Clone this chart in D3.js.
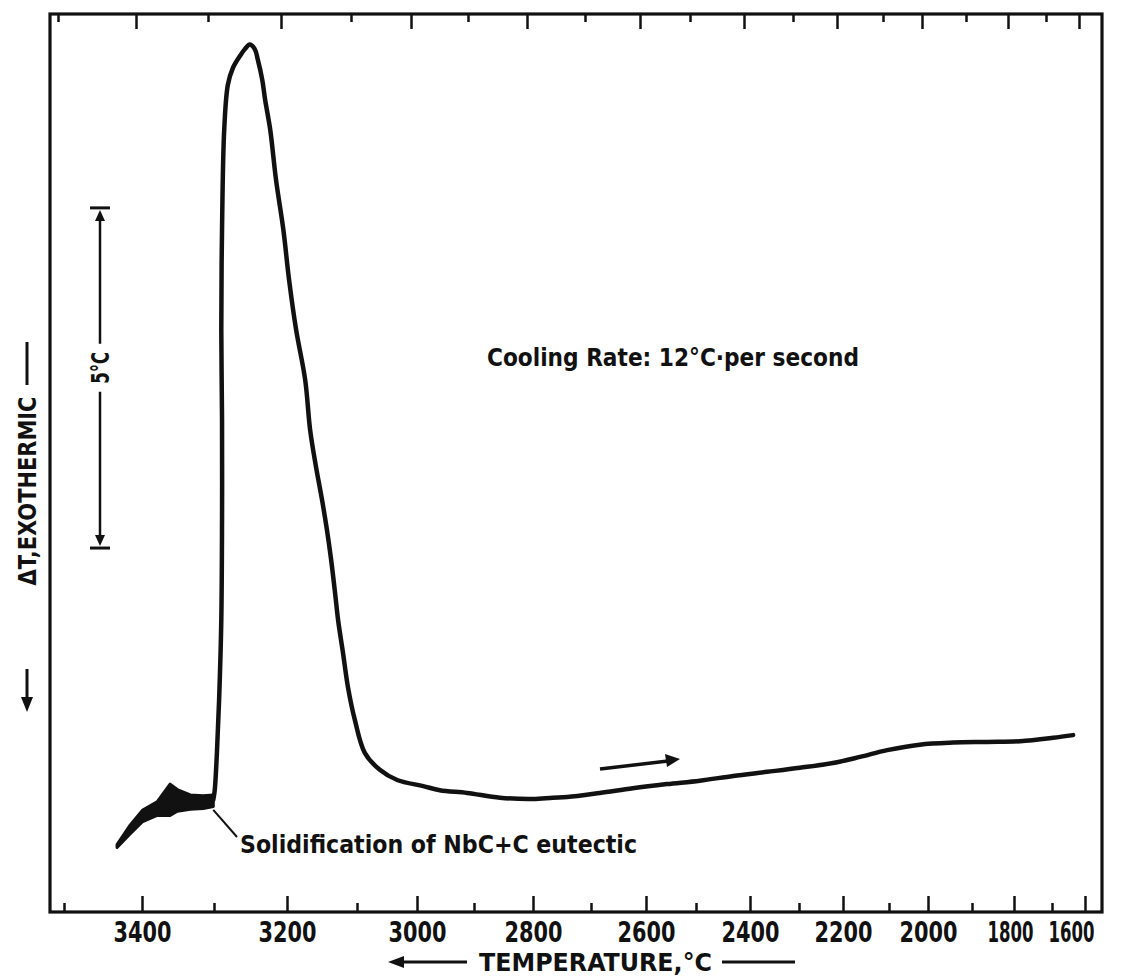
<!DOCTYPE html>
<html>
<head>
<meta charset="utf-8">
<script src="https://cdn.jsdelivr.net/npm/d3@7"></script>
<style>
  html, body { margin: 0; background: #fff; }
  svg { display: block; font-family: "DejaVu Sans Condensed", "DejaVu Sans", sans-serif; font-weight: bold; }
</style>
</head>
<body>
<div id="chart"></div>
<script>
// temperature axis, °C (decreasing to the right, scale is not linear)
const tempTicks = [3500, 3400, 3300, 3200, 3100, 3000, 2900, 2800, 2700, 2600,
                   2500, 2400, 2300, 2200, 2100, 2000, 1900, 1800, 1700, 1600];
const majorTicks = [3400, 3200, 3000, 2800, 2600, 2400, 2200, 2000, 1800, 1600];
const minorTicks = [3500, 3300, 3100, 2900, 2700, 2500, 2300, 2100, 1900, 1700];

// DTA trace on cooling: temperature (°C) and ΔT (°C, arbitrary zero)
const traceTemp = [3301, 3299, 3296, 3293, 3290, 3289, 3289, 3290, 3289, 3286, 3281, 3274, 3264, 3258, 3251,
                   3244, 3240, 3234, 3230, 3223, 3215, 3205, 3197, 3187, 3174, 3167, 3159, 3150, 3143, 3137,
                   3131, 3127, 3120, 3113, 3103, 3087, 3062, 3033, 2989, 2960, 2912, 2856, 2800, 2766, 2741,
                   2684, 2624, 2558, 2493, 2431, 2365, 2298, 2223, 2163, 2104, 2021, 1943, 1864, 1784, 1697, 1636];
const traceDT = [1.65, 1.79, 2.34, 3.12, 4.29, 5.76, 7.24, 8.56, 10.03, 11.50, 12.16, 12.41, 12.59, 12.68, 12.75,
                 12.68, 12.53, 12.24, 11.94, 11.50, 10.76, 10.03, 9.29, 8.56, 7.82, 7.09, 6.57, 6.06, 5.62, 5.18,
                 4.66, 4.29, 3.81, 3.31, 2.82, 2.34, 2.09, 1.94, 1.85, 1.79, 1.75, 1.68, 1.66, 1.68, 1.69,
                 1.75, 1.82, 1.88, 1.93, 2.00, 2.06, 2.12, 2.19, 2.28, 2.38, 2.46, 2.49, 2.50, 2.51, 2.56, 2.60];

// noisy signal before solidification (upper / lower envelope of the trace)
const noiseTemp = [3432, 3415, 3399, 3379, 3361, 3351, 3333, 3315, 3301];
const noiseHigh = [0.99, 1.28, 1.50, 1.62, 1.88, 1.80, 1.72, 1.71, 1.72];
const noiseLow  = [0.95, 1.15, 1.33, 1.42, 1.42, 1.48, 1.51, 1.52, 1.55];

const settings = {
  width: 1122, height: 977,
  left: 50, right: 1102, top: 14, bottom: 912,
  ink: "#111",
};
// pixel position of each 100 °C tick on the original chart paper
const tempAxisPx = [64, 142, 214, 287, 357, 417, 474, 533, 591, 646,
                    696, 750, 799, 843, 889, 928, 972, 1014, 1052, 1085];

const svg = d3.select("#chart").append("svg")
  .attr("width", settings.width)
  .attr("height", settings.height);

const x = d3.scaleLinear().domain(tempTicks).range(tempAxisPx);
const y = d3.scaleLinear().domain([0, 13.2]).range([settings.bottom, settings.top]);

// frame
svg.append("rect")
  .attr("x", settings.left).attr("y", settings.top)
  .attr("width", settings.right - settings.left)
  .attr("height", settings.bottom - settings.top)
  .attr("fill", "none").attr("stroke", settings.ink).attr("stroke-width", 3.2);

const styleAxis = function(g) {
  g.select(".domain").remove();
  g.selectAll(".tick line").attr("stroke", settings.ink).attr("stroke-width", 2.5);
};

// bottom axis, labels squeezed horizontally like the narrow lettering of the original
svg.append("g")
  .attr("transform", `translate(0,${settings.bottom})`)
  .call(d3.axisBottom(x).tickValues(majorTicks).tickSizeInner(-16).tickSizeOuter(0)
    .tickPadding(9).tickFormat(d3.format("d")))
  .call(styleAxis)
  .call(g => g.selectAll(".tick text")
    .attr("fill", settings.ink)
    .attr("font-size", 29)
    .attr("font-family", "'DejaVu Sans Condensed', sans-serif")
    .attr("font-weight", "bold")
    .each(function(d) {
      const w = this.getComputedTextLength();
      const target = d < 2000 ? 46 : 58;
      const dx = d == 1600 ? -14 : (d == 1800 ? -4 : 0);
      d3.select(this).attr("transform", `translate(${dx},0) scale(${target / w},1)`);
    }));
svg.append("g")
  .attr("transform", `translate(0,${settings.bottom})`)
  .call(d3.axisBottom(x).tickValues(minorTicks).tickSizeInner(-9).tickSizeOuter(0).tickFormat(""))
  .call(styleAxis);

// top axis (paper is slightly skewed, ticks sit a little to the left)
svg.append("g")
  .attr("transform", `translate(-6,${settings.top})`)
  .call(d3.axisTop(x).tickValues(majorTicks).tickSizeInner(-15).tickSizeOuter(0).tickFormat(""))
  .call(styleAxis);
svg.append("g")
  .attr("transform", `translate(-6,${settings.top})`)
  .call(d3.axisTop(x).tickValues(minorTicks).tickSizeInner(-8).tickSizeOuter(0).tickFormat(""))
  .call(styleAxis);

// noisy part of the trace
const noise = noiseTemp.map((t, i) => ({t: t, hi: noiseHigh[i], lo: noiseLow[i]}));
svg.append("path")
  .datum(noise)
  .attr("d", d3.area().x(d => x(d.t)).y0(d => y(d.lo)).y1(d => y(d.hi)).curve(d3.curveLinear))
  .attr("fill", settings.ink)
  .attr("stroke", settings.ink)
  .attr("stroke-width", 3)
  .attr("stroke-linejoin", "round");

// main trace
const trace = traceTemp.map((t, i) => [t, traceDT[i]]);
svg.append("path")
  .datum(trace)
  .attr("d", d3.line().x(d => x(d[0])).y(d => y(d[1])).curve(d3.curveCatmullRom.alpha(0.5)))
  .attr("fill", "none")
  .attr("stroke", settings.ink)
  .attr("stroke-width", 4.5)
  .attr("stroke-linejoin", "round")
  .attr("stroke-linecap", "round");

// scale bar: 5 °C of ΔT
const barX = 100, barTop = y(10.35), barBottom = y(5.35), barMid = y(8.0);
const bar = svg.append("g").attr("stroke", settings.ink).attr("fill", settings.ink);
bar.append("line").attr("x1", barX - 10).attr("x2", barX + 10).attr("y1", barTop).attr("y2", barTop).attr("stroke-width", 3);
bar.append("line").attr("x1", barX - 10).attr("x2", barX + 10).attr("y1", barBottom).attr("y2", barBottom).attr("stroke-width", 3);
bar.append("line").attr("x1", barX).attr("x2", barX).attr("y1", barTop + 8).attr("y2", barMid - 24).attr("stroke-width", 2.5);
bar.append("line").attr("x1", barX).attr("x2", barX).attr("y1", barMid + 24).attr("y2", barBottom - 8).attr("stroke-width", 2.5);
bar.append("path").attr("stroke", "none")
  .attr("d", `M${barX},${barTop + 2}L${barX - 5},${barTop + 13}L${barX + 5},${barTop + 13}Z`);
bar.append("path").attr("stroke", "none")
  .attr("d", `M${barX},${barBottom - 2}L${barX - 5},${barBottom - 13}L${barX + 5},${barBottom - 13}Z`);
svg.append("text")
  .attr("transform", `translate(${barX},${barMid}) rotate(-90)`)
  .attr("text-anchor", "middle").attr("dy", "0.36em")
  .attr("font-size", 24).attr("fill", settings.ink)
  .attr("textLength", 32).attr("lengthAdjust", "spacingAndGlyphs")
  .text("5°C");

// y axis title with arrow
const yLab = svg.append("g").attr("stroke", settings.ink).attr("fill", settings.ink);
yLab.append("line").attr("x1", 27).attr("x2", 27).attr("y1", 342).attr("y2", 385).attr("stroke-width", 3);
yLab.append("line").attr("x1", 27).attr("x2", 27).attr("y1", 669).attr("y2", 700).attr("stroke-width", 3);
yLab.append("path").attr("stroke", "none").attr("d", "M27,712L21,697L33,697Z");
svg.append("text")
  .attr("transform", "translate(27,491) rotate(-90)")
  .attr("text-anchor", "middle").attr("dy", "0.36em")
  .attr("font-size", 24).attr("fill", settings.ink)
  .attr("textLength", 189).attr("lengthAdjust", "spacingAndGlyphs")
  .text("ΔT,EXOTHERMIC");

// x axis title with arrows
const xLab = svg.append("g").attr("stroke", settings.ink).attr("fill", settings.ink);
xLab.append("line").attr("x1", 400).attr("x2", 467).attr("y1", 962).attr("y2", 962).attr("stroke-width", 3);
xLab.append("path").attr("stroke", "none").attr("d", "M388,962L404,956L404,968Z");
xLab.append("line").attr("x1", 722).attr("x2", 795).attr("y1", 962).attr("y2", 962).attr("stroke-width", 3);
svg.append("text")
  .attr("x", 479).attr("y", 971)
  .attr("font-size", 25).attr("fill", settings.ink)
  .attr("textLength", 233).attr("lengthAdjust", "spacingAndGlyphs")
  .text("TEMPERATURE,°C");

// annotations
svg.append("text")
  .attr("x", 487).attr("y", 366)
  .attr("font-size", 24).attr("fill", settings.ink)
  .attr("textLength", 372).attr("lengthAdjust", "spacingAndGlyphs")
  .text("Cooling Rate: 12°C·per second");

svg.append("line")
  .attr("x1", x(3301)).attr("y1", y(1.5))
  .attr("x2", 237).attr("y2", 837)
  .attr("stroke", settings.ink).attr("stroke-width", 2);
svg.append("text")
  .attr("x", 240).attr("y", 853)
  .attr("font-size", 24).attr("fill", settings.ink)
  .attr("textLength", 397).attr("lengthAdjust", "spacingAndGlyphs")
  .text("Solidification of NbC+C eutectic");

// direction-of-scan arrow
svg.append("line")
  .attr("x1", 600).attr("y1", 769).attr("x2", 668).attr("y2", 761)
  .attr("stroke", settings.ink).attr("stroke-width", 3.5);
svg.append("path")
  .attr("d", "M680,759L665,754L667,767Z")
  .attr("fill", settings.ink);
</script>
</body>
</html>
